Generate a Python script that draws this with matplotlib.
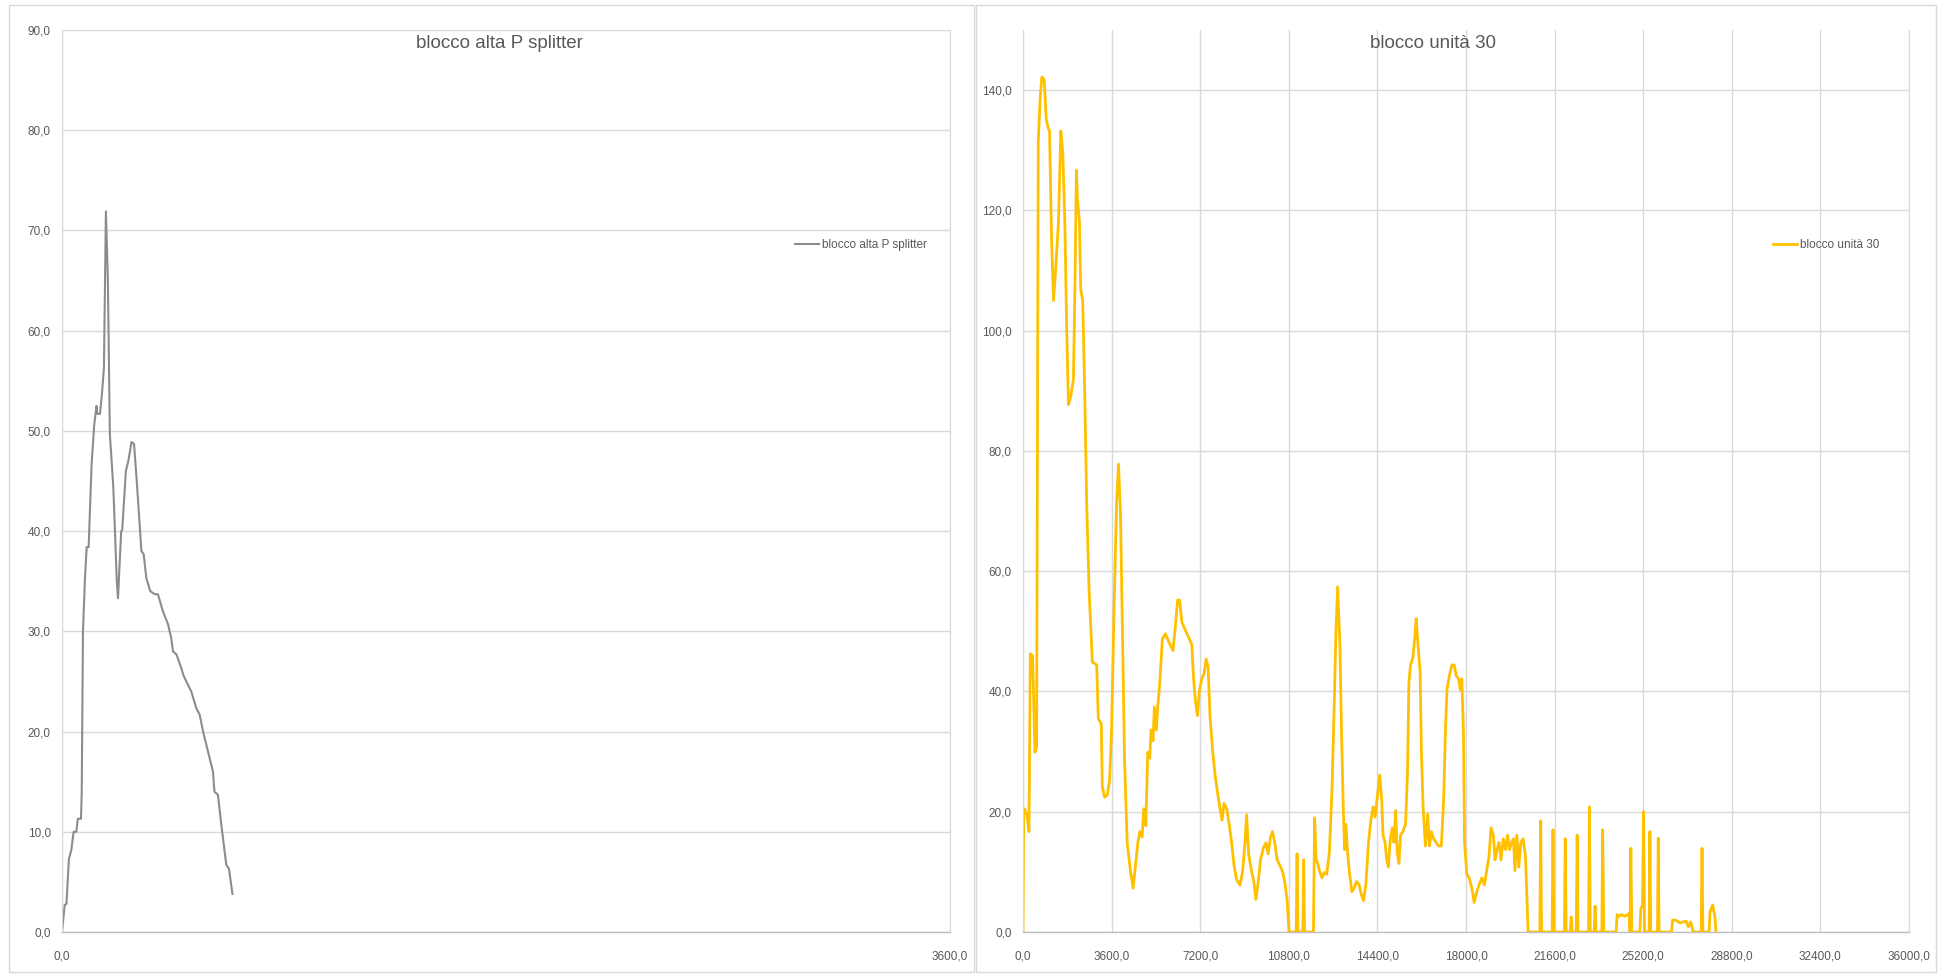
import matplotlib
matplotlib.use("Agg")
import matplotlib.pyplot as plt
from matplotlib import font_manager
from matplotlib.ticker import FuncFormatter, FixedLocator
from matplotlib.patches import Rectangle
from matplotlib.lines import Line2D

# ---------------- data ----------------
left_title = "blocco alta P splitter"
left_label = "blocco alta P splitter"
left_t = [0, 11, 18, 28, 38, 47, 58, 64, 77, 80, 85, 93, 100, 108, 120, 131, 140, 143, 154, 162,
          170, 178, 186, 194, 208, 222, 227, 240, 244, 259, 269, 282, 292, 303, 322, 331, 342, 358,
          376, 389, 409, 430, 443, 450, 464, 484, 491, 504, 524, 545, 558, 572, 592, 612, 618, 632,
          646, 666, 677, 691]
left_v = [0, 2.7, 2.8, 7.3, 8.2, 10, 10, 11.3, 11.3, 14, 30, 35.2, 38.4, 38.4, 46.7, 50.7, 52.5,
          51.7, 51.7, 53.7, 56.3, 71.9, 65, 49.7, 44.4, 35.1, 33.3, 40, 40.1, 46, 47, 48.9, 48.7,
          45, 38, 37.7, 35.3, 34, 33.7, 33.7, 32, 30.7, 29.3, 28, 27.7, 26.3, 25.7, 25, 24, 22.3,
          21.7, 20, 18, 16, 14, 13.7, 10.7, 6.7, 6.3, 3.8]
left_xticks = [0, 3600]
left_yticks = [0, 10, 20, 30, 40, 50, 60, 70, 80, 90]

right_title = "blocco unità 30"
right_label = "blocco unità 30"
right_t = [0, 30, 54, 162, 243, 297, 391, 485, 553, 620, 701, 768, 863, 944, 1024, 1078, 1159,
           1240, 1335, 1442, 1537, 1618, 1699, 1779, 1847, 1941, 2049, 2116, 2170, 2211, 2292,
           2345, 2426, 2507, 2588, 2683, 2817, 2993, 3060, 3181, 3222, 3316, 3424, 3518, 3599,
           3693, 3801, 3882, 3963, 4031, 4125, 4233, 4368, 4475, 4570, 4664, 4745, 4839, 4907,
           4988, 5069, 5150, 5203, 5284, 5338, 5419, 5473, 5554, 5662, 5783, 5877, 5985, 6093,
           6187, 6282, 6362, 6457, 6551, 6659, 6767, 6861, 6929, 7010, 7090, 7171, 7266, 7360,
           7441, 7522, 7603, 7711, 7805, 7899, 8007, 8088, 8169, 8277, 8385, 8479, 8573, 8681,
           8816, 8924, 9018, 9085, 9166, 9288, 9382, 9463, 9557, 9651, 9760, 9868, 9962, 10056,
           10137, 10231, 10326, 10433, 10541, 10636, 10730, 10811, 11100, 11135, 11170, 11370,
           11404, 11440, 11800, 11850, 11910, 11977, 12045, 12152, 12246, 12340, 12448, 12556,
           12650, 12717, 12785, 12879, 12946, 13013, 13067, 13121, 13188, 13255, 13363, 13458,
           13552, 13660, 13754, 13835, 13929, 14037, 14131, 14225, 14306, 14400, 14494, 14575,
           14629, 14710, 14777, 14844, 14925, 15006, 15073, 15140, 15208, 15275, 15342, 15436,
           15544, 15625, 15679, 15746, 15840, 15921, 15975, 16056, 16136, 16190, 16257, 16352,
           16446, 16513, 16594, 16688, 16782, 16890, 16998, 17092, 17159, 17226, 17321, 17429,
           17523, 17604, 17698, 17765, 17832, 17900, 17940, 18034, 18128, 18236, 18330, 18438,
           18532, 18640, 18747, 18842, 18936, 19017, 19111, 19178, 19259, 19340, 19420, 19515,
           19609, 19690, 19770, 19851, 19932, 19986, 20067, 20147, 20228, 20322, 20417, 20524,
           21000, 21036, 21070, 21500, 21534, 21570, 22000, 22032, 22070, 22240, 22274, 22310,
           22480, 22516, 22550, 22980, 23014, 23050, 23210, 23243, 23280, 23520, 23552, 23600,
           24100, 24141, 24222, 24317, 24453, 24630, 24665, 24698, 24738, 25064, 25105, 25173,
           25214, 25254, 25440, 25472, 25505, 25780, 25811, 25845, 26354, 26395, 26490, 26585,
           26694, 26830, 26938, 27033, 27128, 27237, 27555, 27590, 27625, 27880, 27916, 28024,
           28120, 28160]
right_v = [0, 20, 20.5, 19.5, 16.7, 46.3, 45.9, 29.9, 30.8, 131.4, 138.9, 142.2, 141.7, 135.1,
           133.7, 133.2, 115.4, 105, 110.7, 118.2, 133.2, 129.5, 118.2, 99.4, 87.7, 89.1, 91.9,
           108.8, 126.7, 122, 118.2, 106.9, 105, 90, 71.2, 57.1, 44.9, 44.4, 35.5, 34.6, 24.2,
           22.4, 22.8, 25.2, 33.6, 52.4, 71.2, 77.8, 69.3, 52.4, 28.9, 14.8, 10.1, 7.3, 11.1, 14.8,
           16.7, 15.8, 20.5, 17.7, 29.9, 28.9, 33.6, 31.8, 37.4, 33.6, 37.4, 41.2, 48.7, 49.6, 48.7,
           47.7, 46.8, 50.6, 55.2, 55.2, 51.5, 50.6, 49.6, 48.7, 47.7, 42.1, 38.3, 36, 40.2, 42.1,
           43, 45.4, 44, 35.5, 29.9, 26.1, 23.3, 20.5, 18.6, 21.4, 20.5, 17.7, 14.8, 11.1, 8.7,
           7.8, 10.1, 14.8, 19.5, 13, 10.1, 8.3, 5.4, 8.3, 12, 13.9, 14.8, 13, 15.8, 16.7, 14.8,
           12, 11.1, 10.1, 8.3, 5.4, 0, 0, 13, 0, 0, 12, 0, 0, 19, 12, 11.4, 10.2, 9, 9.9, 9.6,
           13.2, 23.8, 38.5, 50.3, 57.4, 47.4, 32.6, 20.8, 13.7, 17.9, 13.2, 10.2, 6.7, 7.3, 8.4,
           7.8, 6.1, 5.2, 7.8, 14.9, 18.5, 20.8, 19.1, 22.6, 26.1, 22, 16.1, 14.9, 12, 10.8, 15.5,
           17.3, 14.9, 20.2, 13.2, 11.4, 16.1, 16.7, 17.9, 26.7, 41.5, 44.4, 45.6, 49.1, 52.1,
           47.4, 43.2, 29.7, 20.8, 14.3, 19.6, 14.3, 16.7, 15.5, 14.9, 14.3, 14.3, 22, 32.6, 40.3,
           42.6, 44.4, 44.4, 42.6, 42.1, 40.3, 42.1, 32.6, 14.9, 9.6, 9, 7.3, 4.9, 6.7, 7.8, 9,
           7.8, 10.2, 12.6, 17.3, 16.1, 12, 13.7, 14.9, 12, 15.5, 13.7, 16.1, 13.7, 14.9, 15.5,
           10.2, 16.1, 10.8, 14.9, 15.5, 12.6, 0, 0, 18.5, 0, 0, 17, 0, 0, 15.5, 0, 0, 2.5, 0, 0,
           16.1, 0, 0, 20.8, 0, 0, 4.3, 0, 0, 17, 0, 0, 2.9, 2.6, 2.9, 2.6, 3.1, 0, 13.9, 0, 0, 4,
           4.3, 20, 0, 0, 16.7, 0, 0, 15.6, 0, 0, 2, 2, 1.8, 1.5, 1.7, 1.8, 0.9, 1.7, 0, 0, 13.9,
           0, 0, 3.4, 4.5, 2.3, 0]
right_xticks = [0, 3600, 7200, 10800, 14400, 18000, 21600, 25200, 28800, 32400, 36000]
right_yticks = [0, 20, 40, 60, 80, 100, 120, 140]

# ---------------- style ----------------
names = {f.name for f in font_manager.fontManager.ttflist}
fam = "Liberation Sans Narrow" if "Liberation Sans Narrow" in names else "Liberation Sans"
plt.rcParams["font.family"] = [fam, "DejaVu Sans"]

W, H = 1943, 977
fig = plt.figure(figsize=(W / 100, H / 100), dpi=100)
fig.patch.set_facecolor("white")

TXT = "#595959"
GRID = "#d9d9d9"
fmt = FuncFormatter(lambda v, p: f"{v:.1f}".replace(".", ","))

# panel borders
for (x0, x1) in [(9, 974), (976, 1936)]:
    fig.patches.append(Rectangle((x0 / W, 5 / H), (x1 - x0) / W, (972 - 5) / H,
                                 transform=fig.transFigure, fill=False,
                                 edgecolor=GRID, linewidth=1.0))


def style(ax, xticks, yticks, xlim, ylim, top_line):
    ax.set_xlim(*xlim)
    ax.set_ylim(*ylim)
    ax.xaxis.set_major_locator(FixedLocator(xticks))
    ax.yaxis.set_major_locator(FixedLocator(yticks))
    ax.xaxis.set_major_formatter(fmt)
    ax.yaxis.set_major_formatter(fmt)
    ax.grid(True, color=GRID, linewidth=1.0)
    ax.set_axisbelow(True)
    ax.tick_params(length=0, labelsize=8.5, labelcolor=TXT)
    ax.tick_params(axis="x", pad=13)
    ax.tick_params(axis="y", pad=8)
    ax.spines["bottom"].set_color("#bfbfbf")
    ax.spines["bottom"].set_linewidth(1.0)
    ax.spines["left"].set_color(GRID)
    ax.spines["right"].set_color(GRID)
    ax.spines["top"].set_color(GRID)
    ax.spines["top"].set_visible(top_line)


axL = fig.add_axes([62 / W, 45 / H, 888 / W, 902 / H])
axR = fig.add_axes([1023 / W, 45 / H, 886 / W, 902 / H])

axL.plot(left_t, left_v, color="#8c8c8c", linewidth=1.5, label=left_label)
style(axL, left_xticks, left_yticks, (0, 3600), (0, 90), True)

axR.plot(right_t, right_v, color="#FFC000", linewidth=2.0, label=right_label)
style(axR, right_xticks, right_yticks, (0, 36000), (0, 150), False)

# titles
fig.text(499 / W, 1 - 44 / H, left_title, ha="center", va="center", fontsize=13.5, color=TXT)
fig.text(1433 / W, 1 - 44 / H, right_title, ha="center", va="center", fontsize=13.5, color=TXT)

# legends
fig.legend(handles=[Line2D([], [], color="#8c8c8c", linewidth=1.5)], labels=[left_label],
           loc="center left", bbox_to_anchor=(795 / W, 1 - 245 / H), frameon=False,
           fontsize=8.5, labelcolor=TXT, handlelength=2.0, handletextpad=0.3,
           borderpad=0, borderaxespad=0)
fig.legend(handles=[Line2D([], [], color="#FFC000", linewidth=2.0)], labels=[right_label],
           loc="center left", bbox_to_anchor=(1773 / W, 1 - 245 / H), frameon=False,
           fontsize=8.5, labelcolor=TXT, handlelength=2.0, handletextpad=0.3,
           borderpad=0, borderaxespad=0)

fig.savefig("out.png", dpi=100)
